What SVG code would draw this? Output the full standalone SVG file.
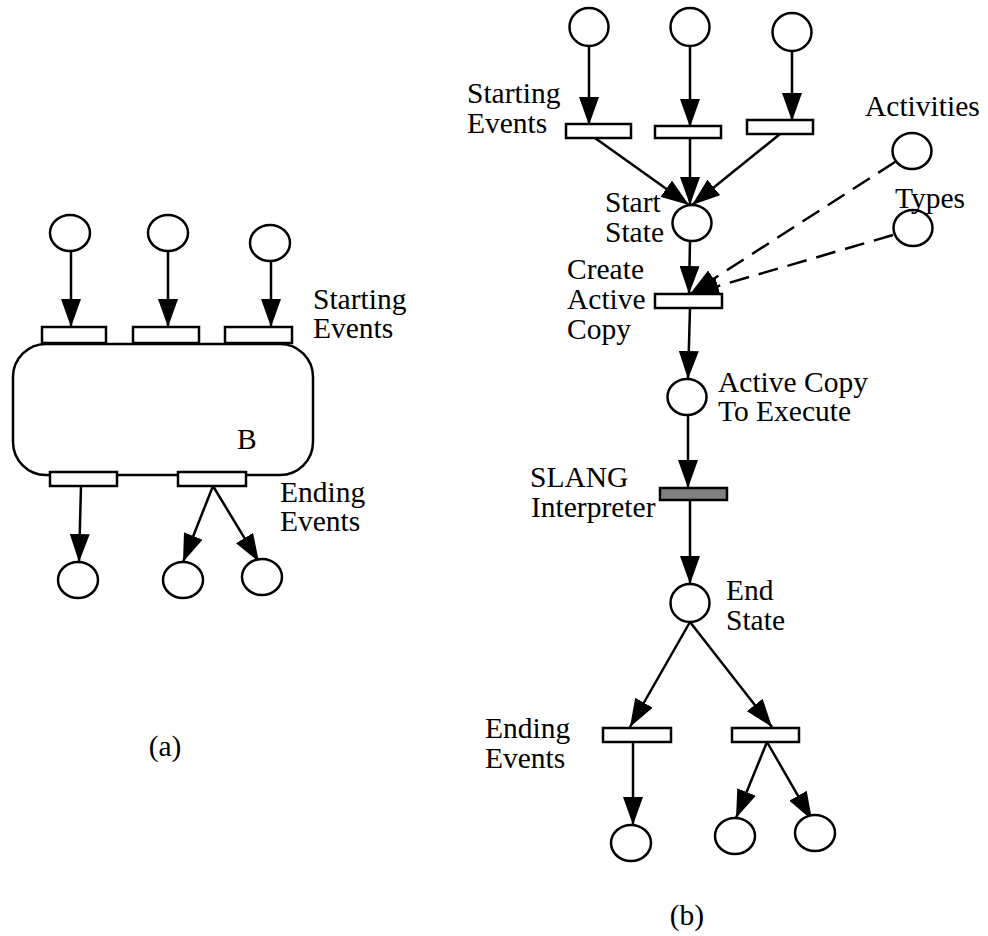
<svg xmlns="http://www.w3.org/2000/svg" width="988" height="936" viewBox="0 0 988 936">
  <style>
    .place { fill: #fff; stroke: #000; stroke-width: 2.5; }
    .trans { fill: #fff; stroke: #000; stroke-width: 2.5; }
    .busy { fill: #808080; stroke: #000; stroke-width: 2.5; }
    .arc { fill: none; stroke: #000; stroke-width: 2.5; marker-end: url(#arrow); }
    .dash { stroke-dasharray: 20 10; }
    .lbl { font-family: "Liberation Serif", "Times New Roman", serif; font-size: 29.5px; fill: #000; }
  </style>
  <defs>
    <marker id="arrow" viewBox="0 0 28 20" refX="28" refY="10" markerWidth="28" markerHeight="20" markerUnits="userSpaceOnUse" orient="auto">
      <path d="M0,0 L28,10 L0,20 z" fill="#000"/>
    </marker>
  </defs>
  <rect width="988" height="936" fill="#fff"/>

  <!-- (a) block B with its starting and ending events -->
  <g id="a-block">
    <rect x="13" y="344" width="300" height="131" rx="33" ry="33" fill="none" stroke="#000" stroke-width="2.5"/>
    <text class="lbl" x="237" y="449">B</text>
  </g>
  <g id="a-connectors">
    <line class="arc" x1="71" y1="251" x2="71" y2="327"/>
    <line class="arc" x1="168" y1="251" x2="168" y2="327"/>
    <line class="arc" x1="271" y1="261" x2="271" y2="327"/>
    <line class="arc" x1="81" y1="486" x2="79" y2="562"/>
    <line class="arc" x1="213" y1="486" x2="183" y2="562"/>
    <line class="arc" x1="213" y1="486" x2="259" y2="562"/>
  </g>
  <g id="a-in1"><ellipse class="place" cx="70" cy="233" rx="20" ry="18"/></g>
  <g id="a-in2"><ellipse class="place" cx="168" cy="233" rx="20" ry="18"/></g>
  <g id="a-in3"><ellipse class="place" cx="270" cy="243" rx="20" ry="18"/></g>
  <g id="a-start1"><rect class="trans" x="42" y="327" width="64" height="16"/></g>
  <g id="a-start2"><rect class="trans" x="133" y="327" width="66" height="16"/></g>
  <g id="a-start3"><rect class="trans" x="225" y="327" width="67" height="16"/></g>
  <g id="a-end1"><rect class="trans" x="50" y="472" width="67" height="14"/></g>
  <g id="a-end2"><rect class="trans" x="178" y="472" width="68" height="14"/></g>
  <g id="a-out1"><ellipse class="place" cx="78" cy="580" rx="20" ry="18"/></g>
  <g id="a-out2"><ellipse class="place" cx="183" cy="580" rx="20" ry="18"/></g>
  <g id="a-out3"><ellipse class="place" cx="262" cy="577" rx="20" ry="18"/></g>
  <g id="a-labels">
    <text class="lbl" x="313" y="309">Starting</text>
    <text class="lbl" x="313" y="338">Events</text>
    <text class="lbl" x="280" y="502">Ending</text>
    <text class="lbl" x="280" y="531">Events</text>
    <text class="lbl" x="165" y="756" text-anchor="middle">(a)</text>
  </g>

  <!-- (b) expanded net -->
  <g id="b-connectors">
    <line class="arc" x1="589" y1="46" x2="589" y2="125"/>
    <line class="arc" x1="690" y1="46" x2="690" y2="127"/>
    <line class="arc" x1="792" y1="51" x2="792" y2="121"/>
    <line class="arc" x1="595" y1="138" x2="689" y2="205"/>
    <line class="arc" x1="690" y1="138" x2="690" y2="205"/>
    <line class="arc" x1="780" y1="134" x2="692" y2="205"/>
    <line class="arc" x1="690" y1="241" x2="689" y2="294"/>
    <line class="arc dash" x1="895" y1="162" x2="690" y2="294"/>
    <line class="arc dash" x1="893" y1="235" x2="691" y2="294"/>
    <line class="arc" x1="690" y1="308" x2="688" y2="379"/>
    <line class="arc" x1="688" y1="415" x2="688" y2="488"/>
    <line class="arc" x1="690" y1="500" x2="690" y2="584"/>
    <line class="arc" x1="690" y1="622" x2="630" y2="727"/>
    <line class="arc" x1="690" y1="622" x2="772" y2="727"/>
    <line class="arc" x1="633" y1="742" x2="633" y2="825"/>
    <line class="arc" x1="767" y1="742" x2="736" y2="818"/>
    <line class="arc" x1="767" y1="742" x2="812" y2="820"/>
  </g>
  <g id="b-in1"><ellipse class="place" cx="589" cy="27" rx="19.5" ry="19"/></g>
  <g id="b-in2"><ellipse class="place" cx="690" cy="27" rx="19.5" ry="19"/></g>
  <g id="b-in3"><ellipse class="place" cx="792" cy="32" rx="19.5" ry="19"/></g>
  <g id="b-start1"><rect class="trans" x="566" y="124" width="65" height="14"/></g>
  <g id="b-start2"><rect class="trans" x="655" y="126" width="66" height="12"/></g>
  <g id="b-start3"><rect class="trans" x="747" y="120" width="66" height="14"/></g>
  <g id="b-start-state"><ellipse class="place" cx="692" cy="223" rx="19.5" ry="18"/></g>
  <g id="b-activities"><ellipse class="place" cx="912" cy="151" rx="19.5" ry="18"/></g>
  <g id="b-types"><ellipse class="place" cx="913" cy="228" rx="19.5" ry="18"/></g>
  <g id="b-create"><rect class="trans" x="655" y="294" width="67" height="14"/></g>
  <g id="b-active-copy"><ellipse class="place" cx="687" cy="397" rx="19.5" ry="18"/></g>
  <g id="b-interpreter"><rect class="busy" x="660" y="488" width="67" height="12"/></g>
  <g id="b-end-state"><ellipse class="place" cx="690" cy="603" rx="19.5" ry="19"/></g>
  <g id="b-end1"><rect class="trans" x="603" y="728" width="68" height="14"/></g>
  <g id="b-end2"><rect class="trans" x="732" y="728" width="67" height="14"/></g>
  <g id="b-out1"><ellipse class="place" cx="631" cy="843" rx="20" ry="18"/></g>
  <g id="b-out2"><ellipse class="place" cx="735" cy="836" rx="20" ry="18"/></g>
  <g id="b-out3"><ellipse class="place" cx="815" cy="833" rx="20" ry="18"/></g>
  <g id="b-labels">
    <text class="lbl" x="467" y="103">Starting</text>
    <text class="lbl" x="467" y="133">Events</text>
    <text class="lbl" x="865" y="116">Activities</text>
    <text class="lbl" x="895" y="208">Types</text>
    <text class="lbl" x="605" y="212">Start</text>
    <text class="lbl" x="605" y="242">State</text>
    <text class="lbl" x="567" y="279">Create</text>
    <text class="lbl" x="567" y="309">Active</text>
    <text class="lbl" x="567" y="339">Copy</text>
    <text class="lbl" x="718" y="392">Active Copy</text>
    <text class="lbl" x="718" y="421">To Execute</text>
    <text class="lbl" x="530" y="487">SLANG</text>
    <text class="lbl" x="531" y="517">Interpreter</text>
    <text class="lbl" x="726" y="600">End</text>
    <text class="lbl" x="726" y="630">State</text>
    <text class="lbl" x="485" y="738">Ending</text>
    <text class="lbl" x="485" y="768">Events</text>
    <text class="lbl" x="687" y="925" text-anchor="middle">(b)</text>
  </g>
</svg>
